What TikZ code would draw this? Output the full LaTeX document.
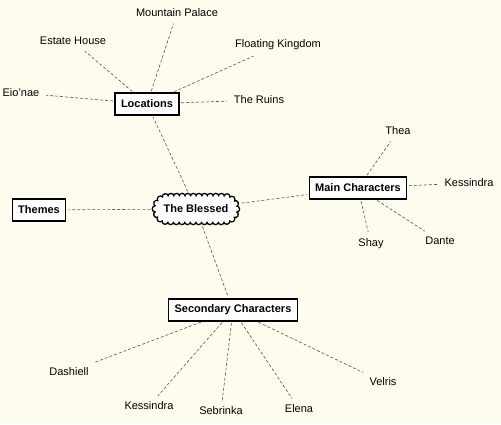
\documentclass[tikz,border=0pt]{standalone}
\usepackage{fontspec}
\setmainfont{Liberation Sans}
\usetikzlibrary{decorations.markings, positioning}
\definecolor{paper}{HTML}{FFFDF0}
\definecolor{linkgray}{HTML}{555555}

\begin{document}
\begin{tikzpicture}[
    x=1pt, y=-1pt,
    topic/.style={rectangle, draw=black, fill=white, line width=1.1pt, font=\fontsize{11}{13}\selectfont\bfseries, inner xsep=6pt, minimum height=22pt},
    leaf/.style={font=\fontsize{11}{13}\selectfont, inner sep=5pt},
    hub/.style={rectangle, rounded corners=16pt, font=\fontsize{11}{13}\selectfont\bfseries, minimum width=88pt, minimum height=32pt},
    scallop/.style={postaction={decorate, decoration={markings, mark=between positions 0 and 1 step 5.6pt with {\fill[#1] (0,0) circle (3.8pt);}}}},
    hubfill/.style={postaction={decorate, decoration={markings, mark=between positions 0 and 1 step 5.6pt with {\fill[white] (0,0) circle (2.3pt);}}}},
    link/.style={draw=linkgray, dashed, dash pattern=on 3pt off 2pt, line width=0.6pt, shorten <=1.5pt, shorten >=1.5pt}
]
\fill[paper] (0,0) rectangle (501,424);
\useasboundingbox (0,0) rectangle (501,424);

% central idea, scalloped outline first
\path[scallop=black] (155.5,196.5) [rounded corners=12.5pt] rectangle (236.5,221.5);
\path[hubfill] (155.5,196.5) [rounded corners=12.5pt] rectangle (236.5,221.5);
\fill[white] (155.5,196.5) [rounded corners=12.5pt] rectangle (236.5,221.5);
\node[hub] (blessed) at (196,209) {The Blessed};

% main branches
\node[topic] (locations) at (147,104) {Locations};
\node[topic] (themes) at (39,210) {Themes};
\node[topic] (maincast) at (358,188) {Main Characters};
\node[topic] (secondcast) at (233,310) {Secondary Characters};

% locations
\node[leaf] (mountain) at (177,13) {Mountain Palace};
\node[leaf] (estate) at (73,41) {Estate House};
\node[leaf] (floating) at (278,45) {Floating Kingdom};
\node[leaf] (eionae) at (21,93) {Eio'nae};
\node[leaf] (ruins) at (259,100) {The Ruins};

% main characters
\node[leaf] (thea) at (398,131) {Thea};
\node[leaf] (kessmain) at (469,183) {Kessindra};
\node[leaf] (shay) at (371,244) {Shay};
\node[leaf] (dante) at (440,241) {Dante};

% secondary characters
\node[leaf] (dashiell) at (69,372) {Dashiell};
\node[leaf] (kesssecond) at (149,406) {Kessindra};
\node[leaf] (sebrinka) at (221,411) {Sebrinka};
\node[leaf] (elena) at (299,409) {Elena};
\node[leaf] (velris) at (383,382) {Velris};

\draw[link] (blessed) -- (locations);
\draw[link] (blessed) -- (themes);
\draw[link] (blessed) -- (maincast);
\draw[link] (blessed) -- (secondcast);

\draw[link] (locations) -- (mountain);
\draw[link] (locations) -- (estate);
\draw[link] (locations) -- (floating);
\draw[link] (locations) -- (eionae);
\draw[link] (locations) -- (ruins);

\draw[link] (maincast) -- (thea);
\draw[link] (maincast) -- (kessmain);
\draw[link] (maincast) -- (shay);
\draw[link] (maincast) -- (dante);

\draw[link] (secondcast) -- (dashiell);
\draw[link] (secondcast) -- (kesssecond);
\draw[link] (secondcast) -- (sebrinka);
\draw[link] (secondcast) -- (elena);
\draw[link] (secondcast) -- (velris);
\end{tikzpicture}
\end{document}
